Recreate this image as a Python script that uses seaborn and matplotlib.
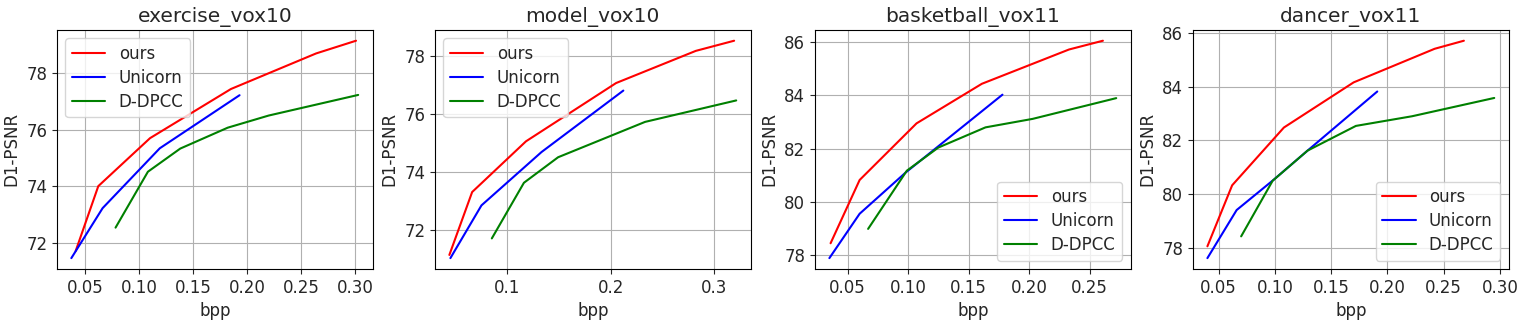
import matplotlib
matplotlib.use("Agg")
import matplotlib.pyplot as plt
import seaborn as sns
import pandas as pd

titles = ["exercise_vox10", "model_vox10", "basketball_vox11", "dancer_vox11"]
methods = ["ours", "Unicorn", "D-DPCC"]
colors = ["red", "blue", "green"]

# exercise_vox10
ex_ours_x = [0.041, 0.062, 0.110, 0.185, 0.264, 0.301]
ex_ours_y = [71.7, 74.0, 75.7, 77.44, 78.70, 79.15]
ex_uni_x = [0.037, 0.066, 0.119, 0.193]
ex_uni_y = [71.45, 73.22, 75.34, 77.22]
ex_dd_x = [0.078, 0.108, 0.138, 0.182, 0.220, 0.303]
ex_dd_y = [72.53, 74.51, 75.33, 76.07, 76.50, 77.23]

# model_vox10
mo_ours_x = [0.044, 0.066, 0.118, 0.205, 0.282, 0.319]
mo_ours_y = [71.13, 73.30, 75.05, 77.06, 78.17, 78.52]
mo_uni_x = [0.045, 0.075, 0.133, 0.212]
mo_uni_y = [71.02, 72.84, 74.68, 76.80]
mo_dd_x = [0.085, 0.116, 0.149, 0.233, 0.321]
mo_dd_y = [71.70, 73.62, 74.50, 75.72, 76.46]

# basketball_vox11
bb_ours_x = [0.036, 0.060, 0.107, 0.161, 0.233, 0.261]
bb_ours_y = [78.44, 80.82, 82.95, 84.44, 85.73, 86.06]
bb_uni_x = [0.035, 0.060, 0.098, 0.178]
bb_uni_y = [77.88, 79.55, 81.10, 84.03]
bb_dd_x = [0.067, 0.099, 0.125, 0.164, 0.203, 0.272]
bb_dd_y = [78.98, 81.17, 82.04, 82.80, 83.12, 83.90]

# dancer_vox11
da_ours_x = [0.040, 0.062, 0.108, 0.170, 0.242, 0.268]
da_ours_y = [78.06, 80.33, 82.48, 84.16, 85.41, 85.71]
da_uni_x = [0.040, 0.066, 0.099, 0.129, 0.191]
da_uni_y = [77.62, 79.41, 80.54, 81.62, 83.82]
da_dd_x = [0.070, 0.098, 0.129, 0.172, 0.222, 0.295]
da_dd_y = [78.43, 80.50, 81.62, 82.54, 82.90, 83.58]

panels = [
    [(ex_ours_x, ex_ours_y), (ex_uni_x, ex_uni_y), (ex_dd_x, ex_dd_y)],
    [(mo_ours_x, mo_ours_y), (mo_uni_x, mo_uni_y), (mo_dd_x, mo_dd_y)],
    [(bb_ours_x, bb_ours_y), (bb_uni_x, bb_uni_y), (bb_dd_x, bb_dd_y)],
    [(da_ours_x, da_ours_y), (da_uni_x, da_uni_y), (da_dd_x, da_dd_y)],
]
legend_locs = ["upper left", "upper left", "lower right", "lower right"]
xticks = [
    [0.05, 0.10, 0.15, 0.20, 0.25, 0.30],
    [0.1, 0.2, 0.3],
    [0.05, 0.10, 0.15, 0.20, 0.25],
    [0.05, 0.10, 0.15, 0.20, 0.25, 0.30],
]
xfmt = ["%.2f", "%.1f", "%.2f", "%.2f"]
yticks = [[72, 74, 76, 78], [72, 74, 76, 78], [78, 80, 82, 84, 86], [78, 80, 82, 84, 86]]

sns.set_style("ticks")
plt.rcParams["font.family"] = ["DejaVu Sans"]

fig = plt.figure(figsize=(15.28, 3.21), dpi=100)
lefts = [0.0373, 0.2847, 0.5334, 0.7808]
width = 0.2065
for i in range(4):
    ax = fig.add_axes([lefts[i], 0.162, width, 0.745])
    rows = []
    for m, (xs, ys) in zip(methods, panels[i]):
        for j, (x, y) in enumerate(zip(xs, ys)):
            rows.append({"bpp": x, "D1-PSNR": y, "method": m, "order": j})
    df = pd.DataFrame(rows)
    sns.lineplot(data=df, x="bpp", y="D1-PSNR", hue="method", hue_order=methods,
                 palette=colors, sort=False, estimator=None, ax=ax, linewidth=1.5)
    ax.grid(True, color="#b0b0b0", linewidth=0.8)
    ax.set_axisbelow(True)
    ax.set_xticks(xticks[i])
    ax.set_xticklabels([xfmt[i] % v for v in xticks[i]])
    ax.set_yticks(yticks[i])
    ax.tick_params(labelsize=12, direction="out", length=3.5)
    ax.set_title(titles[i], fontsize=14.5)
    ax.set_xlabel("bpp", fontsize=12)
    ax.set_ylabel("D1-PSNR", fontsize=12)
    for s in ax.spines.values():
        s.set_color("black")
        s.set_linewidth(0.8)
    leg = ax.legend(loc=legend_locs[i], fontsize=12, title=None, frameon=True,
                    labelspacing=0.35)
    leg.get_frame().set_edgecolor("#cccccc")

fig.savefig("out.png", dpi=100)
